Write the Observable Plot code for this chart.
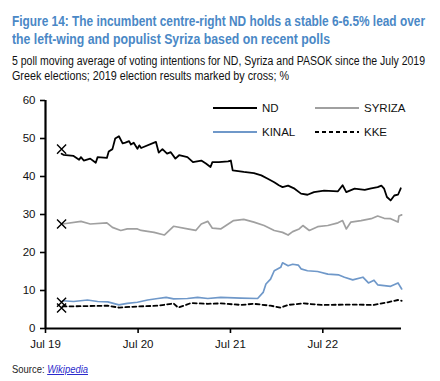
<!DOCTYPE html>
<html><head><meta charset="utf-8">
<script src="https://cdn.jsdelivr.net/npm/d3@7"></script>
<script src="https://cdn.jsdelivr.net/npm/@observablehq/plot@0.6"></script>
<style>
body{margin:0;background:#fff;width:440px;height:381px;overflow:hidden;position:relative;font-family:"Liberation Sans",Arial,sans-serif;}
.ln{position:absolute;left:12px;white-space:nowrap;transform-origin:0 0;display:inline-block;}
.t{color:#4a88c6;font-weight:bold;font-size:14px;line-height:18px;}
.s{color:#111;font-size:12px;line-height:15px;}
#chart{position:absolute;left:0;top:88px;}
#legend{position:absolute;left:0;top:0;}
.src{font-size:11px;color:#222;line-height:13px;}
.src a{color:#2a2acc;font-style:italic;text-decoration:underline;}
</style></head><body>
<span class="ln t" style="top:12px" data-w="413">Figure 14: The incumbent centre-right ND holds a stable 6-6.5% lead over</span>
<span class="ln t" style="top:30px" data-w="318">the left-wing and populist Syriza based on recent polls</span>
<span class="ln s" style="top:54px" data-w="413">5 poll moving average of voting intentions for ND, Syriza and PASOK since the July 2019</span>
<span class="ln s" style="top:69px" data-w="277">Greek elections; 2019 election results marked by cross; %</span>
<div id="chart"></div>
<span class="ln src" style="top:363px" data-w="76">Source: <a>Wikipedia</a></span>
<script>
// decimal-year dates
const ndT = [2019.67,2019.69,2019.80,2019.86,2019.88,2019.91,2019.98,2020.04,2020.06,2020.16,2020.18,2020.22,2020.25,2020.29,2020.33,2020.36,2020.40,2020.42,2020.45,2020.49,2020.51,2020.53,2020.69,2020.72,2020.76,2020.81,2020.85,2020.90,2020.94,2021.03,2021.09,2021.18,2021.23,2021.28,2021.30,2021.37,2021.47,2021.50,2021.52,2021.64,2021.75,2021.83,2021.90,2021.97,2022.02,2022.06,2022.12,2022.19,2022.26,2022.33,2022.40,2022.51,2022.66,2022.71,2022.75,2022.84,2022.95,2023.02,2023.09,2023.13,2023.16,2023.19,2023.23,2023.27,2023.31,2023.34];
const ndV = [46.0,45.7,45.4,44.4,45.1,44.2,44.7,43.6,45.1,44.9,46.6,47.2,50.0,50.6,48.7,48.9,49.3,48.4,48.9,47.3,48.2,47.5,49.1,46.3,47.2,46.0,46.4,44.7,45.6,45.1,43.8,44.2,43.4,42.5,43.8,43.8,44.0,44.2,41.6,41.2,40.9,40.3,39.4,38.5,37.7,37.2,37.6,36.8,35.5,35.2,35.9,36.3,36.1,37.7,35.9,36.8,36.5,36.9,37.2,37.6,36.8,34.6,33.7,35.0,35.2,36.9];
const syT = [2019.68,2019.88,2019.98,2020.16,2020.22,2020.31,2020.38,2020.49,2020.53,2020.67,2020.78,2020.88,2021.03,2021.12,2021.18,2021.25,2021.30,2021.39,2021.53,2021.64,2021.75,2021.86,2021.97,2022.06,2022.12,2022.17,2022.24,2022.28,2022.35,2022.44,2022.55,2022.66,2022.71,2022.75,2022.80,2022.91,2023.02,2023.09,2023.16,2023.23,2023.31,2023.32,2023.35];
const syV = [27.5,28.2,27.5,27.8,26.6,25.8,26.2,26.2,25.8,25.3,24.6,26.9,26.2,25.8,27.5,28.2,26.4,26.2,28.4,28.7,28.0,27.1,25.8,25.3,24.6,25.5,26.2,27.1,25.8,26.8,27.1,27.8,28.4,26.2,28.0,28.4,28.9,29.6,29.0,28.9,28.0,29.6,29.9];
const kiT = [2019.68,2019.80,2019.95,2020.06,2020.17,2020.29,2020.38,2020.49,2020.60,2020.71,2020.80,2020.88,2021.03,2021.14,2021.25,2021.39,2021.61,2021.79,2021.85,2021.88,2021.93,2021.97,2022.04,2022.06,2022.12,2022.17,2022.23,2022.26,2022.33,2022.44,2022.55,2022.67,2022.73,2022.82,2022.93,2022.99,2023.05,2023.09,2023.23,2023.31,2023.35];
const kiV = [7.3,7.1,7.5,7.1,7.0,6.2,6.6,6.9,7.5,7.9,8.2,7.8,7.9,8.2,7.9,8.2,8.0,7.9,9.5,11.7,13.0,15.2,16.1,17.3,16.5,16.9,16.7,15.7,15.2,15.0,14.3,14.1,13.5,12.8,13.5,12.0,12.7,11.5,11.1,12.0,10.4];
const kkT = [2019.68,2020.17,2020.29,2020.49,2020.71,2020.88,2020.93,2021.07,2021.25,2021.39,2021.61,2021.75,2021.93,2022.04,2022.12,2022.29,2022.48,2022.83,2023.05,2023.20,2023.31,2023.35];
const kkV = [5.8,6.0,5.5,5.8,6.0,6.6,5.5,6.7,6.5,6.6,6.2,6.5,6.0,5.5,6.2,6.6,6.2,6.3,6.2,6.9,7.5,7.3];
const parties = ["ND","SYRIZA","KINAL","KKE"];
const electionT = 2019.67;
const electionV = [47.2,27.5,6.9,5.4];
const xDomain = ["2019-07-01","2023-05-08"];
const yDomain = [0,60];
const yTicks = [0,10,20,30,40,50,60];
const xTicks = ["2019-07-01","2020-07-01","2021-07-01","2022-07-01"];
const xTickLabels = ["Jul 19","Jul 20","Jul 21","Jul 22"];

// squeeze text lines to the narrow widths of the reference
document.querySelectorAll(".ln").forEach(el=>{
  const w = el.getBoundingClientRect().width, target = +el.dataset.w;
  el.style.transform = `scaleX(${target/w})`;
});

function yd(t){const y=Math.floor(t);const s=Date.UTC(y,0,1),e=Date.UTC(y+1,0,1);return new Date(s+(t-y)*(e-s));}
const series = [[ndT,ndV],[syT,syV],[kiT,kiV],[kkT,kkV]];
const rows = [];
series.forEach(([T,V],i)=>T.forEach((t,j)=>rows.push({party:parties[i],date:yd(t),v:V[j]})));
const crosses = parties.map((p,i)=>({party:p,date:yd(electionT),v:electionV[i]}));
const tickDates = xTicks.map(d=>new Date(d));
const colors = {ND:"#000",SYRIZA:"#a0a0a0",KINAL:"#6f98c9",KKE:"#000"};
const dashes = {ND:null,SYRIZA:null,KINAL:null,KKE:"4,3"};

const marks = [];
for (const p of ["SYRIZA","KINAL","KKE","ND"]) {
  marks.push(Plot.line(rows.filter(r=>r.party===p),{x:"date",y:"v",stroke:colors[p],strokeWidth:p==="SYRIZA"||p==="KINAL"?1.7:1.8,strokeDasharray:dashes[p]}));
}
marks.push(Plot.dot(crosses,{x:"date",y:"v",symbol:"times",r:4.2,stroke:"#000",strokeWidth:1.4}));
marks.push(Plot.ruleY([yDomain[0]],{stroke:"#000",strokeWidth:2.2}));
marks.push(Plot.ruleX([new Date(xDomain[0])],{stroke:"#000",strokeWidth:2.2}));

const chart = Plot.plot({
  width:440,height:270,marginLeft:45,marginRight:39,marginTop:12,marginBottom:30,
  style:{fontFamily:"'Liberation Sans',Arial,sans-serif",fontSize:"11.5px",color:"#111",background:"transparent"},
  x:{type:"utc",domain:xDomain.map(d=>new Date(d)),ticks:tickDates,tickFormat:d=>xTickLabels[tickDates.findIndex(t=>+t===+d)],tickSize:5,tickPadding:6,label:null},
  y:{domain:yDomain,ticks:yTicks,tickSize:5,tickPadding:5,label:null},
  marks
});
chart.querySelectorAll("[aria-label$='axis'] line, g[aria-label$='tick'] path").forEach(e=>{e.setAttribute("stroke","#000");e.setAttribute("stroke-width","1.6");});
document.getElementById("chart").appendChild(chart);

// legend overlay
const leg = d3.select("#chart").append("svg").attr("id","legend").attr("width",440).attr("height",80)
  .style("font-family","'Liberation Sans',Arial,sans-serif").style("font-size","11.5px");
const legPos = [[213,20],[315,20],[213,44],[315,44]];
parties.forEach((p,i)=>{
  const [lx,ly]=legPos[i];
  leg.append("line").attr("x1",lx).attr("x2",lx+44).attr("y1",ly).attr("y2",ly)
    .attr("stroke",colors[p]).attr("stroke-width",1.8).attr("stroke-dasharray",dashes[p]);
  leg.append("text").attr("x",lx+49).attr("y",ly).attr("dy","0.36em").attr("fill","#111").text(p);
});
</script>
</body></html>
